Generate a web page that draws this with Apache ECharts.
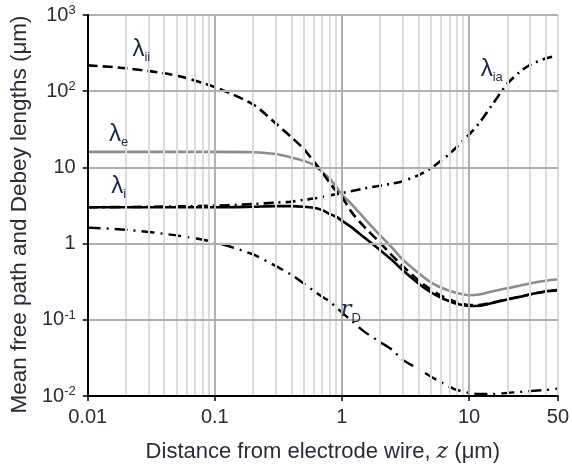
<!DOCTYPE html>
<html>
<head>
<meta charset="utf-8">
<script src="https://cdn.jsdelivr.net/npm/echarts@6/dist/echarts.min.js"></script>
<style>
  html, body { margin: 0; padding: 0; background: #fff; }
  #chart { width: 572px; height: 472px; }
</style>
</head>
<body>
<div id="chart"></div>
<script>
// distance from electrode wire, z (um)
const zValues = [0.01, 0.02, 0.05, 0.1, 0.2, 0.3, 0.4, 0.5, 0.6, 0.7, 0.8, 0.9, 1, 1.2, 1.5, 2, 2.5, 3, 4, 5, 6, 7, 8, 10, 12, 15, 20, 25, 30, 40, 50]

// lengths (um)
const lambdaE = [16, 16, 16, 16, 15.8, 15, 13.5, 12.2, 10.8, 8.7, 7.1, 5.6, 4.4, 3.25, 2.15, 1.28, 0.87, 0.62, 0.41, 0.31, 0.265, 0.24, 0.225, 0.21, 0.215, 0.235, 0.26, 0.28, 0.3, 0.325, 0.34]
const lambdaI = [3.0, 3.0, 3.0, 3.0, 3.05, 3.1, 3.1, 3.05, 2.95, 2.75, 2.45, 2.25, 2.0, 1.62, 1.2, 0.82, 0.6, 0.45, 0.3, 0.23, 0.195, 0.175, 0.162, 0.152, 0.153, 0.165, 0.185, 0.2, 0.215, 0.235, 0.245]
const lambdaII = [218, 200, 160, 113, 67, 38, 25, 17.5, 12, 8.6, 6.3, 4.9, 4.1, 2.55, 1.66, 1.02, 0.69, 0.51, 0.33, 0.25, 0.208, 0.185, 0.17, 0.156, 0.156, 0.167, 0.187, 0.2, 0.215, 0.235, 0.245]
const lambdaIA = [3.0, 3.02, 3.08, 3.14, 3.3, 3.45, 3.55, 3.75, 3.9, 4.1, 4.3, 4.45, 4.6, 4.9, 5.3, 5.75, 6.15, 6.6, 7.9, 9.7, 12.2, 15, 18.5, 27, 38, 64, 125, 178, 220, 268, 295]
const debyeR = [1.62, 1.52, 1.28, 1.04, 0.72, 0.51, 0.39, 0.3, 0.24, 0.2, 0.174, 0.146, 0.125, 0.096, 0.07, 0.051, 0.04, 0.03, 0.0226, 0.018, 0.0152, 0.0133, 0.012, 0.011, 0.0106, 0.0106, 0.011, 0.0113, 0.0116, 0.012, 0.0125]

// grid lines
const majorZ = [0.1, 1, 10]
const minorZ = [0.02, 0.03, 0.04, 0.05, 0.06, 0.07, 0.08, 0.09,
  0.2, 0.3, 0.4, 0.5, 0.6, 0.7, 0.8, 0.9,
  2, 3, 4, 5, 6, 7, 8, 9, 20, 30, 40, 50]
const decadeY = [0.1, 1, 10, 100, 1000]

const font = '"Liberation Sans", Arial, sans-serif'
const serif = '"DejaVu Serif", "Liberation Serif", serif'
const textColor = '#2b2b36'
const labelColor = '#1f2747'

const chart = echarts.init(document.getElementById('chart'))

function pairs(arr) {
  return zValues.map((z, i) => [z, arr[i]])
}

function yLabel(v) {
  const e = Math.round(Math.log10(v))
  if (e === 0) return '{b|1}'
  if (e === 1) return '{b|10}'
  return '{b|10}{s|' + e + '}'
}

const lamStyle = {
  l: { fontSize: 24, fontFamily: font, color: labelColor, lineHeight: 24, padding: [0, 0, 6, 0] },
  s: { fontSize: 13, fontFamily: font, color: labelColor, lineHeight: 13, verticalAlign: 'bottom' },
  r: { fontSize: 23, fontFamily: serif, fontStyle: 'italic', color: labelColor, lineHeight: 23, padding: [0, 0, 6, 0] }
}

function note(coord, text) {
  return {
    silent: true,
    symbol: 'circle',
    symbolSize: 0,
    label: { show: true, position: 'inside', formatter: text, rich: lamStyle },
    data: [{ coord: coord }]
  }
}

function curve(name, arr, style, mark) {
  return {
    name: name,
    type: 'line',
    data: pairs(arr),
    smooth: 0.3,
    showSymbol: false,
    z: 3,
    lineStyle: style,
    markPoint: mark
  }
}

const option = {
  animation: false,
  grid: { left: 85, right: 14, top: 15, bottom: 76 },
  xAxis: {
    type: 'log',
    logBase: 10,
    min: 0.01,
    max: 50,
    z: 5,
    name: '{a|Distance from electrode wire, }{z|z}{a| (\u03bcm)}',
    nameLocation: 'middle',
    nameGap: 45,
    nameTextStyle: {
      rich: {
        a: { fontSize: 22, fontFamily: font, color: textColor },
        z: { fontSize: 22, fontFamily: serif, fontStyle: 'italic', color: textColor }
      }
    },
    axisLine: { onZero: false, lineStyle: { color: '#000', width: 2 } },
    axisTick: { show: true, length: 5, lineStyle: { color: '#000', width: 1.5 } },
    axisLabel: {
      fontSize: 20,
      fontFamily: font,
      color: textColor,
      margin: 11,
      showMaxLabel: true,
      formatter: v => String(+Number(v).toPrecision(3))
    },
    splitLine: { show: false }
  },
  yAxis: {
    type: 'log',
    logBase: 10,
    min: 0.01,
    max: 1000,
    z: 5,
    name: 'Mean free path and Debey lengths (\u03bcm)',
    nameLocation: 'middle',
    nameRotate: 90,
    nameGap: 52,
    nameTextStyle: { fontSize: 22.5, fontFamily: font, color: textColor, padding: [0, 0, 0, -18] },
    axisLine: { onZero: false, lineStyle: { color: '#000', width: 2 } },
    axisTick: { show: true, length: 5, lineStyle: { color: '#000', width: 1.5 } },
    axisLabel: {
      margin: 12,
      formatter: yLabel,
      rich: {
        b: { fontSize: 20, fontFamily: font, color: textColor, lineHeight: 22 },
        s: { fontSize: 13, fontFamily: font, color: textColor, lineHeight: 13, verticalAlign: 'top' }
      }
    },
    splitLine: { show: false }
  },
  series: [
    {
      name: 'grid',
      type: 'line',
      data: [],
      z: 1,
      markLine: {
        silent: true,
        symbol: 'none',
        animation: false,
        label: { show: false },
        lineStyle: { color: '#dcdcdc', width: 2, type: 'solid' },
        data: minorZ.map(v => ({ xAxis: v }))
      }
    },
    {
      name: 'grid major',
      type: 'line',
      data: [],
      z: 1,
      markLine: {
        silent: true,
        symbol: 'none',
        animation: false,
        label: { show: false },
        lineStyle: { color: '#b0b0b0', width: 2, type: 'solid' },
        data: majorZ.map(v => ({ xAxis: v })).concat(decadeY.map(v => ({ yAxis: v })))
      }
    },
    curve('lambda_e', lambdaE, { color: '#8c8c8c', width: 2.6, type: 'solid' },
      note([0.0175, 25], '{l|\u03bb}{s|e}')),
    curve('lambda_ii', lambdaII, { color: '#000', width: 2.6, type: [10, 5] },
      note([0.0264, 327], '{l|\u03bb}{s|ii}')),
    curve('r_D', debyeR, { color: '#000', width: 2.4, type: [13, 6, 2, 6] },
      note([1.17, 0.123], '{r|r}{s|D}')),
    curve('lambda_i', lambdaI, { color: '#000', width: 2.6, type: 'solid' },
      note([0.0175, 5.2], '{l|\u03bb}{s|i}')),
    curve('lambda_ia', lambdaIA, { color: '#000', width: 2.6, type: [10, 5, 2, 5] },
      note([15.1, 179], '{l|\u03bb}{s|ia}'))
  ]
}

chart.setOption(option)
</script>
</body>
</html>
